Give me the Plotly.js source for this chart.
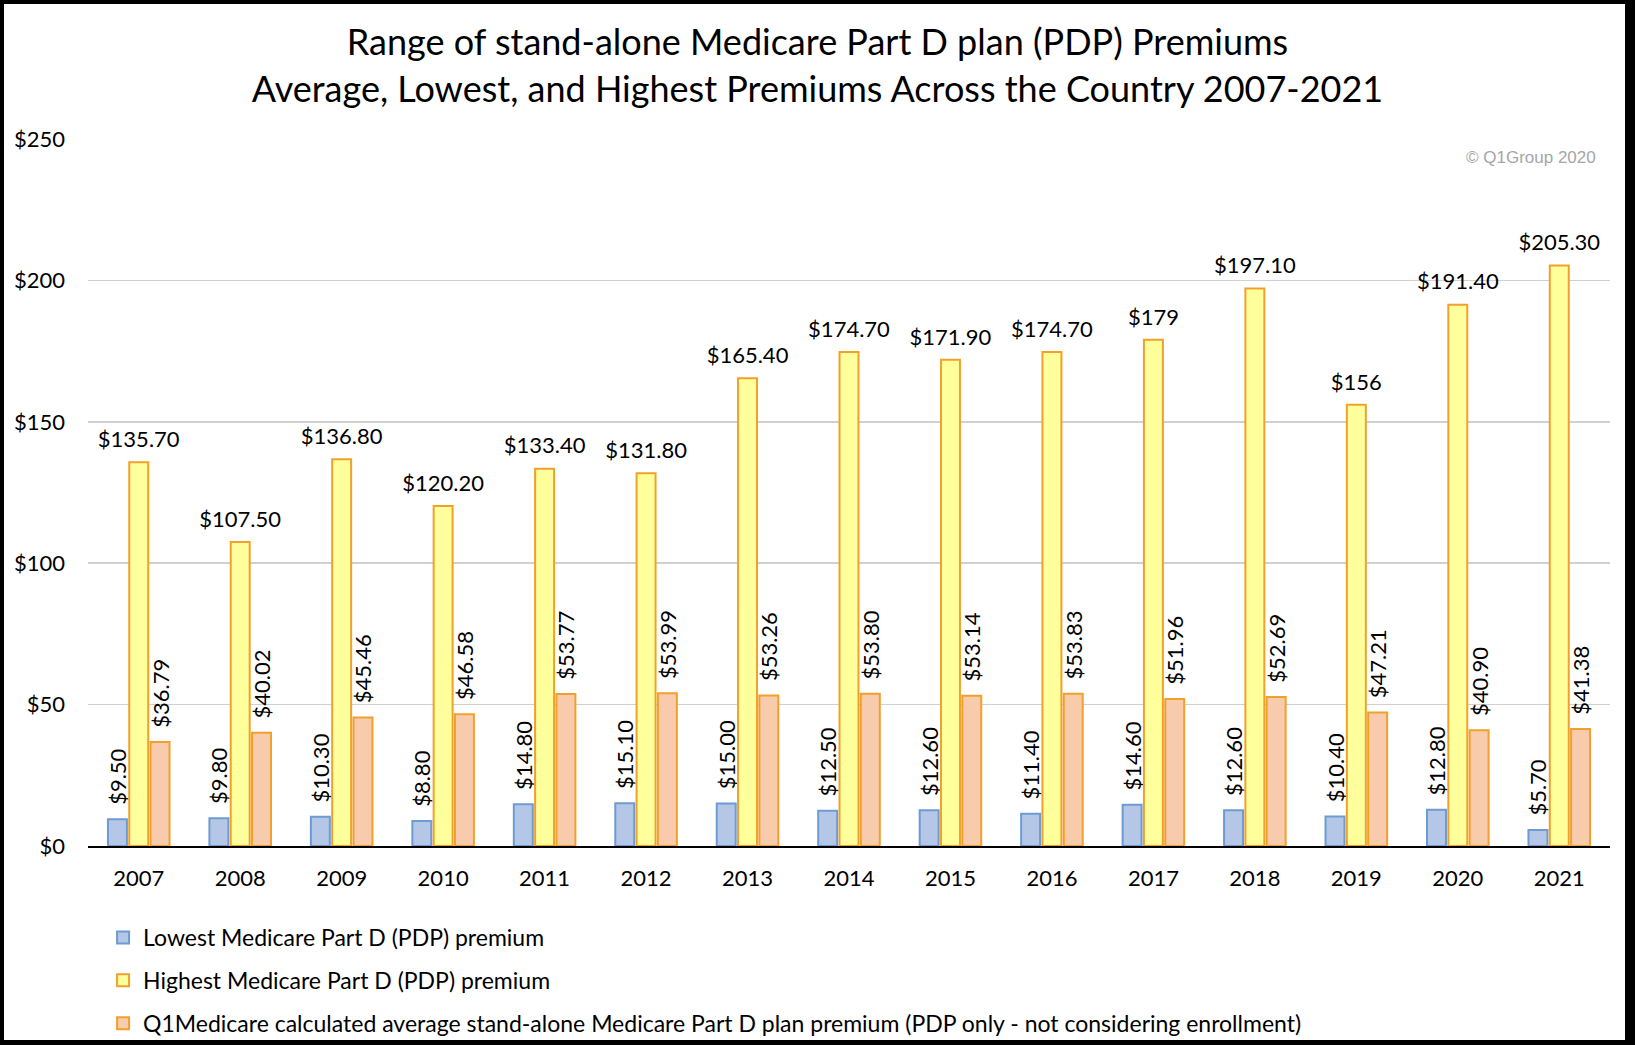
<!DOCTYPE html>
<html>
<head>
<meta charset="utf-8">
<script src="https://cdn.plot.ly/plotly-3.0.1.min.js"></script>
<style>
  html, body { margin: 0; padding: 0; background: #fff; }
  #wrap { position: relative; width: 1635px; height: 1045px; }
  #chart { position: absolute; left: 0; top: 0; width: 1635px; height: 1045px; }
  #frame {
    position: absolute; left: 0; top: 0; right: 0; bottom: 0;
    border-style: solid; border-color: #000;
    border-width: 4px 10px 5px 4px;
    pointer-events: none;
  }
</style>
</head>
<body>
<div id="wrap">
  <div id="chart"></div>
  <div id="frame"></div>
</div>
<script>
// chart data
var years = ['2007', '2008', '2009', '2010', '2011', '2012', '2013', '2014',
             '2015', '2016', '2017', '2018', '2019', '2020', '2021'];

var lowest = [9.50, 9.80, 10.30, 8.80, 14.80, 15.10, 15.00, 12.50,
              12.60, 11.40, 14.60, 12.60, 10.40, 12.80, 5.70];
var lowestLabels = ['$9.50', '$9.80', '$10.30', '$8.80', '$14.80', '$15.10', '$15.00', '$12.50',
                    '$12.60', '$11.40', '$14.60', '$12.60', '$10.40', '$12.80', '$5.70'];

var highest = [135.70, 107.50, 136.80, 120.20, 133.40, 131.80, 165.40, 174.70,
               171.90, 174.70, 179, 197.10, 156, 191.40, 205.30];
var highestLabels = ['$135.70', '$107.50', '$136.80', '$120.20', '$133.40', '$131.80', '$165.40', '$174.70',
                     '$171.90', '$174.70', '$179', '$197.10', '$156', '$191.40', '$205.30'];

var average = [36.79, 40.02, 45.46, 46.58, 53.77, 53.99, 53.26, 53.80,
               53.14, 53.83, 51.96, 52.69, 47.21, 40.90, 41.38];
var averageLabels = ['$36.79', '$40.02', '$45.46', '$46.58', '$53.77', '$53.99', '$53.26', '$53.80',
                     '$53.14', '$53.83', '$51.96', '$52.69', '$47.21', '$40.90', '$41.38'];

var FONT = 'Lato, "Open Sans", sans-serif';
var labelFont = { family: FONT, size: 22, color: '#000' };
var ORANGE_LINE = '#f2a02c';

// vertical labels: a couple of leading no-break spaces keep them off the bar top
function padded(list) {
    return list.map(function (s) { return '\u00a0\u00a0' + s; });
}

// shared bar settings
function barTrace(name, y, text, fill, line, group) {
    return {
        type: 'bar',
        name: name,
        x: years,
        y: y,
        text: text,
        textposition: text ? 'outside' : 'none',
        textangle: -90,
        textfont: labelFont,
        constraintext: 'none',
        cliponaxis: false,
        hoverinfo: 'x+y+name',
        legendgroup: group,
        marker: { color: fill, line: { color: line, width: 2 } }
    };
}

var traces = [
    barTrace('Lowest Medicare Part D (PDP) premium', lowest, padded(lowestLabels),
             '#b4c7e7', '#6d9bd2', 'a'),
    barTrace('Highest Medicare Part D (PDP) premium', highest, null,
             '#ffff9c', ORANGE_LINE, 'b'),
    barTrace('Q1Medicare calculated average stand-alone Medicare Part D plan premium (PDP only - not considering enrollment)',
             average, padded(averageLabels), '#f8cbad', ORANGE_LINE, 'c'),
    // horizontal labels over the middle (highest) bars; the hidden marker sets the gap
    {
        type: 'scatter',
        mode: 'markers+text',
        x: years,
        y: highest,
        text: highestLabels,
        textposition: 'top center',
        textfont: labelFont,
        marker: { size: 14, color: 'rgba(0,0,0,0)' },
        cliponaxis: false,
        showlegend: false,
        hoverinfo: 'skip'
    }
];

var layout = {
    width: 1635,
    height: 1045,
    paper_bgcolor: '#fff',
    plot_bgcolor: '#fff',
    font: { family: FONT, size: 22, color: '#000' },
    margin: { l: 88, r: 25, t: 139, b: 199, pad: 0, autoexpand: false },
    title: {
        text: 'Range of stand-alone Medicare Part D plan (PDP) Premiums<br>Average, Lowest, and Highest Premiums Across the Country 2007-2021',
        font: { family: FONT, size: 36, color: '#000' },
        x: 0.5, xref: 'container', xanchor: 'center',
        y: 0.947, yref: 'container', yanchor: 'middle'
    },
    barmode: 'group',
    bargap: 0.37,
    bargroupgap: 0.11,
    showlegend: true,
    legend: {
        orientation: 'v',
        x: 0.0099, xanchor: 'left',
        y: -0.099, yanchor: 'top',
        font: { family: FONT, size: 23, color: '#000' },
        tracegroupgap: 10,
        bgcolor: 'rgba(0,0,0,0)'
    },
    xaxis: {
        type: 'category',
        range: [-0.5, years.length - 0.5],
        autorange: false,
        showgrid: false,
        showline: true,
        linecolor: '#000',
        linewidth: 2,
        ticks: '',
        ticklabelstandoff: 12,
        tickfont: { family: FONT, size: 22, color: '#000' },
        fixedrange: true
    },
    yaxis: {
        range: [0, 250],
        dtick: 50,
        tickprefix: '$',
        showgrid: true,
        gridcolor: '#d0d0d0',
        gridwidth: 1.5,
        zeroline: false,
        showline: false,
        ticks: '',
        ticklabelstandoff: 22,
        tickfont: { family: FONT, size: 22, color: '#000' },
        fixedrange: true
    },
    annotations: [{
        text: '© Q1Group 2020',
        xref: 'paper', yref: 'paper',
        x: 0.992, xanchor: 'right',
        y: 0.9745, yanchor: 'middle',
        showarrow: false,
        font: { family: '"Liberation Sans", Arial, sans-serif', size: 17, color: '#a6a6a6' }
    }]
};

Plotly.newPlot('chart', traces, layout, { displayModeBar: false, staticPlot: true });
</script>
</body>
</html>
